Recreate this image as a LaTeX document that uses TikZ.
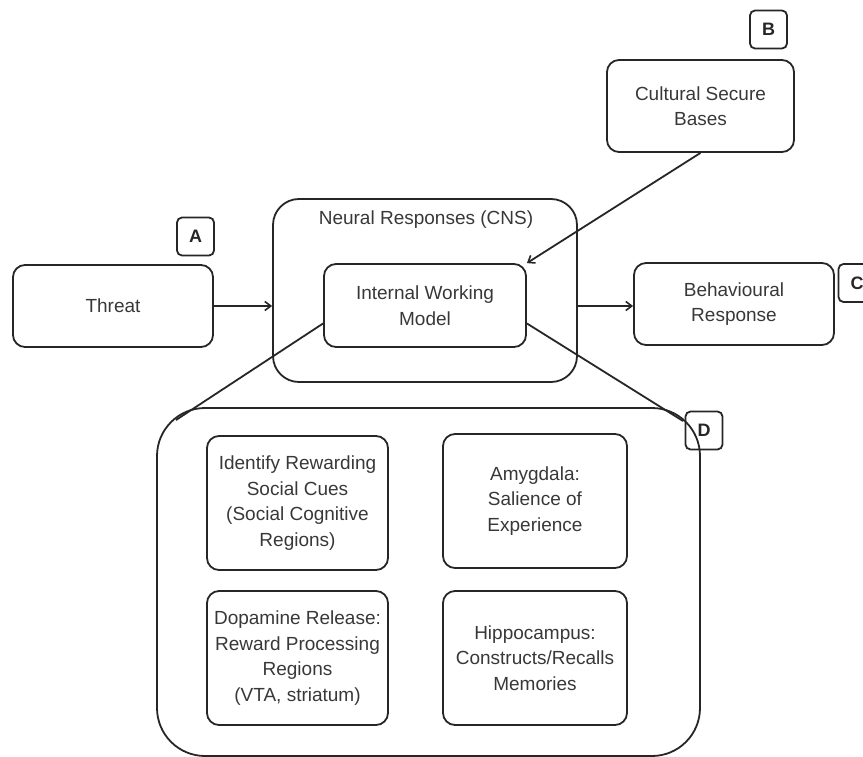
\documentclass[tikz,border=0pt]{standalone}
\usepackage{fontspec}
\setmainfont{Liberation Sans}
\usetikzlibrary{arrows.meta,positioning,calc}
\definecolor{txt}{gray}{0.22}
\tikzset{
  every node/.style={font=\fontsize{19}{25.5}\selectfont, text=txt},
  boxs/.style={draw=black!85, line width=1.8pt, rounded corners=12pt, align=center, inner sep=0pt},
  tag/.style={draw=black!85, line width=1.8pt, rounded corners=5pt, minimum width=37pt, minimum height=38pt, inner sep=0pt, font=\fontsize{18}{20}\selectfont\bfseries, text=black!85},
  conn/.style={draw=black!85, line width=1.8pt},
  arr/.style={conn, -{Straight Barb[length=6pt,width=9pt,line width=1.6pt]}},
}
\begin{document}
\begin{tikzpicture}[x=1pt,y=-1pt]
\clip (0,0) rectangle (863,757);
% outer containers
\node[boxs, rounded corners=26pt, minimum width=304pt, minimum height=183pt] (neural) at (425,290.5) {};
\node at (426,220) (neurallbl) {Neural Responses (CNS)};
\node[boxs, rounded corners=48pt, minimum width=543pt, minimum height=348pt] (cont) at (428.5,582) {};
% main boxes
\node[boxs, minimum width=200pt, minimum height=82pt] (threat) at (113,306) {Threat};
\node[boxs, minimum width=202pt, minimum height=83pt] (iwm) at (425,305.5) {Internal Working\\Model};
\node[boxs, minimum width=200pt, minimum height=82pt] (behav) at (734,304) {Behavioural\\Response};
\node[boxs, minimum width=187pt, minimum height=92pt] (cult) at (700.5,106) {Cultural Secure\\Bases};
% inner boxes
\node[boxs, minimum width=181pt, minimum height=134pt] (ident) at (297.5,503) {Identify Rewarding\\Social Cues\\(Social Cognitive\\Regions)};
\node[boxs, minimum width=184pt, minimum height=134pt] (amyg) at (535,501) {Amygdala:\\Salience of\\Experience};
\node[boxs, minimum width=181pt, minimum height=134pt] (dopa) at (297.5,658) {Dopamine Release:\\Reward Processing\\Regions\\(VTA, striatum)};
\node[boxs, minimum width=184pt, minimum height=134pt] (hippo) at (535,658) {Hippocampus:\\Constructs/Recalls\\Memories};
% tags
\node[tag] (ta) at (195.5,236.5) {A};
\node[tag] (tb) at (768.5,29.5) {B};
\node[tag] (tc) at (857,283) {C};
\node[tag] (td) at (704,430.5) {D};
% connectors
\draw[arr] (threat.east) -- (neural.west |- threat.east);
\draw[arr] (neural.east |- 0,306) -- (behav.west |- 0,306);
\draw[arr] (cult.south) -- (iwm.north east);
\coordinate (dl) at (176,420);
\coordinate (dr) at (683,421);
\draw[conn] (iwm.190) -- (dl);
\draw[conn] (iwm.-10) -- (dr);
\end{tikzpicture}
\end{document}
